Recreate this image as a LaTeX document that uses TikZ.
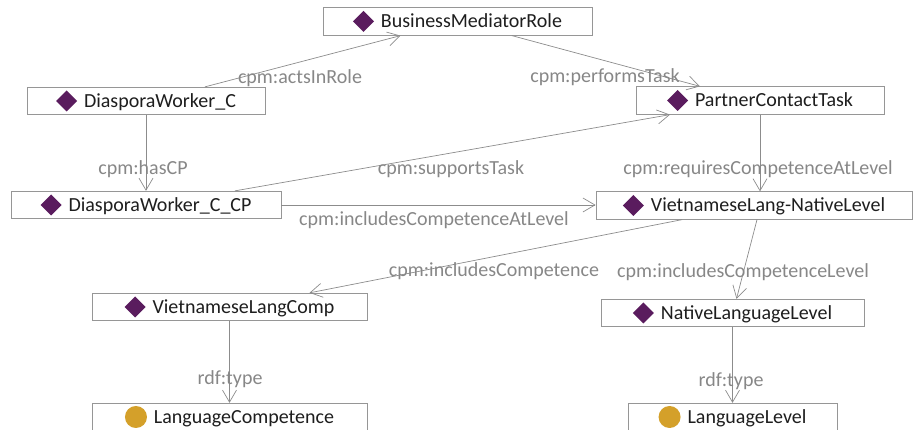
\documentclass[tikz,border=0pt]{standalone}
\usepackage{fontspec}
\setmainfont{Carlito}
\usetikzlibrary{arrows.meta}

\definecolor{boxgray}{RGB}{150,150,150}
\definecolor{linegray}{RGB}{140,140,140}
\definecolor{relgray}{RGB}{135,135,135}
\definecolor{nodetext}{RGB}{30,30,30}
\definecolor{indivpurple}{RGB}{90,28,94}
\definecolor{classgold}{RGB}{212,160,42}

% icons in front of the names
\newcommand\indiv[1]{\tikz[baseline=-6.5pt] \fill[indivpurple] (0pt,0pt) -- (10.5pt,10.5pt) -- (21pt,0pt) -- (10.5pt,-10.5pt) -- cycle;\hspace{7pt}#1}
\newcommand\owlclass[1]{\tikz[baseline=-6.5pt] \fill[classgold] (11pt,0pt) circle[radius=11pt];\hspace{7pt}#1}

\tikzset{
  entity/.style={draw=boxgray, line width=0.8pt, fill=white, minimum height=27.5pt,
    inner sep=0pt, text=nodetext, font=\fontsize{20}{24}\selectfont},
  relname/.style={text=relgray, inner sep=0pt, font=\fontsize{20}{24}\selectfont},
  relarrow/.style={draw=linegray, line width=0.7pt,
    -{Straight Barb[length=12pt,width=14pt,line width=0.7pt]}},
}

\begin{document}
\begin{tikzpicture}[x=1pt,y=-1pt]
    \useasboundingbox (0,0) rectangle (914,430);

    % individuals and classes
    \node [entity, minimum width=269pt] (bmr)   at (457.5,21.5) {\indiv{BusinessMediatorRole}};
    \node [entity, minimum width=238pt] (dwc)   at (146,101)    {\indiv{DiasporaWorker\_C}};
    \node [entity, minimum width=248pt] (pct)   at (760,100.5)  {\indiv{PartnerContactTask}};
    \node [entity, minimum width=270pt] (dwccp) at (146,205)    {\indiv{DiasporaWorker\_C\_CP}};
    \node [entity, minimum width=316pt] (vlnl)  at (754,205.5)  {\indiv{VietnameseLang-NativeLevel}};
    \node [entity, minimum width=275pt] (vlc)   at (229.5,307)  {\indiv{VietnameseLangComp}};
    \node [entity, minimum width=263pt] (nll)   at (732.5,313)  {\indiv{NativeLanguageLevel}};
    \node [entity, minimum width=275pt] (lc)    at (229.5,417)  {\owlclass{LanguageCompetence}};
    \node [entity, minimum width=209pt] (ll)    at (732.5,417)  {\owlclass{LanguageLevel}};

    % properties
    \draw [relarrow] ([xshift=59pt]dwc.north) -- ([xshift=-57pt]bmr.south);
    \draw [relarrow] ([xshift=54.5pt]bmr.south) -- ([xshift=-60pt]pct.north);
    \draw [relarrow] (dwc.south) -- (dwccp.north);
    \draw [relarrow] ([xshift=89pt]dwccp.north) -- ([xshift=-90pt]pct.south);
    \draw [relarrow] (pct.south) -- (pct.south |- vlnl.north);
    \draw [relarrow] (dwccp.east) -- (vlnl.west |- dwccp.east);
    \draw [relarrow] ([xshift=-72pt]vlnl.south) -- ([xshift=80pt]vlc.north);
    \draw [relarrow] ([xshift=3pt]vlnl.south) -- ([xshift=4pt]nll.north);
    \draw [relarrow] (vlc.south) -- (lc.north);
    \draw [relarrow] (nll.south) -- (ll.north);

    \node [relname] (acts)  at (300,78)  {cpm:actsInRole};
    \node [relname] (perf)  at (605,77)  {cpm:performsTask};
    \node [relname] (hascp) at (143,169) {cpm:hasCP};
    \node [relname] (supp)  at (451,169) {cpm:supportsTask};
    \node [relname] (reqcl) at (758,169) {cpm:requiresCompetenceAtLevel};
    \node [relname] (inccl) at (434,220) {cpm:includesCompetenceAtLevel};
    \node [relname] (incc)  at (494,271) {cpm:includesCompetence};
    \node [relname] (inclv) at (743,272) {cpm:includesCompetenceLevel};
    \node [relname] (type1) at (230,379) {rdf:type};
    \node [relname] (type2) at (731,381) {rdf:type};
\end{tikzpicture}
\end{document}
